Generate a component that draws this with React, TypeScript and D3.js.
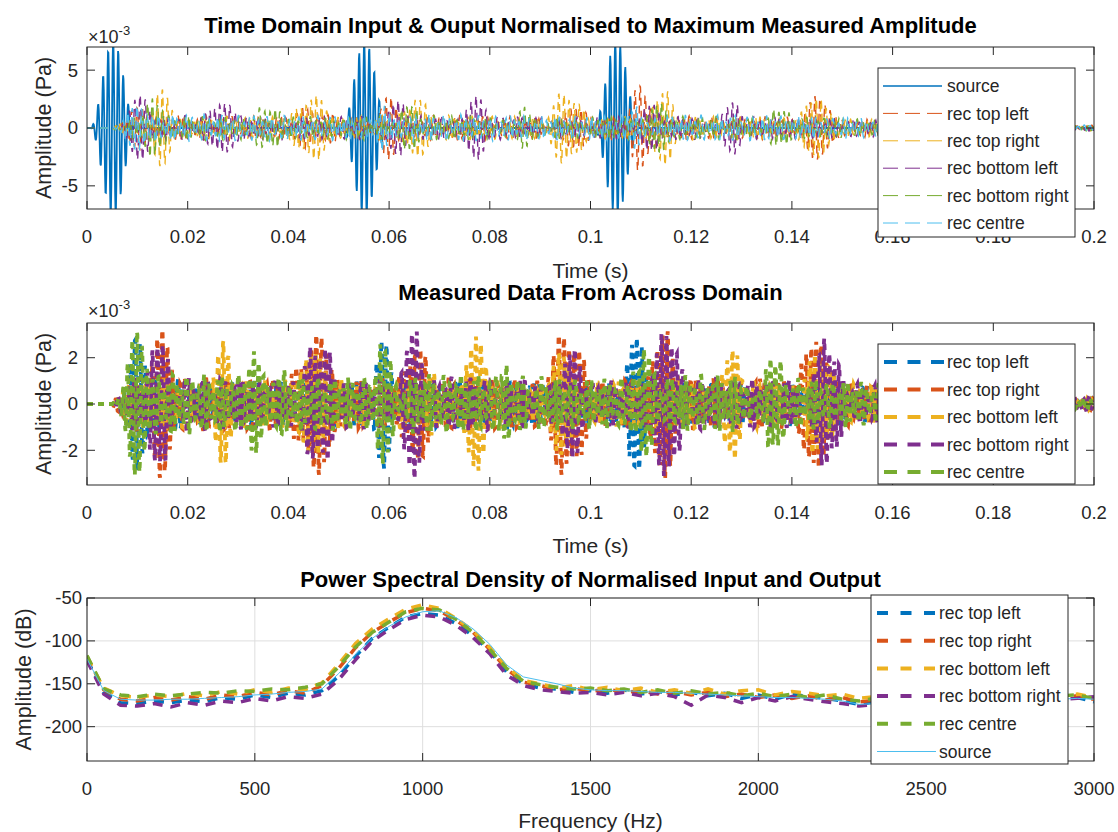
import React, { useEffect, useRef } from 'react'
import * as d3 from 'd3'

const W = 1118
const H = 832
const FONT = '"Liberation Sans", Arial, Helvetica, sans-serif'
const INK = '#262626'

// MATLAB default colour order
const colors = ['#0072BD', '#D95319', '#EDB120', '#7E2F8E', '#77AC30', '#4DBEEE']

// ---------- time domain (values in 10^-3 Pa) ----------
const carrierHz = 1000
const sampleRate = 12000

const timeTicks = [0, 0.02, 0.04, 0.06, 0.08, 0.1, 0.12, 0.14, 0.16, 0.18, 0.2]
const timeTickLabels = ['0', '0.02', '0.04', '0.06', '0.08', '0.1', '0.12', '0.14', '0.16', '0.18', '0.2']

// bursts: [centre time (s), peak amplitude, half width (ms)]
const p1Source = [[0.0052, 7.6, 4.6], [0.0552, 7.6, 4.6], [0.1052, 7.6, 4.6]]
const p1TopLeft = [[0.011, 2.2, 3.5], [0.045, 1.7, 6], [0.06, 3.1, 4], [0.095, 1.8, 6], [0.11, 2.9, 4], [0.145, 1.9, 6]]
const p1TopRight = [[0.015, 2.5, 4.5], [0.045, 2.1, 6], [0.065, 2.7, 5], [0.095, 2.3, 6], [0.115, 2.7, 5], [0.146, 2.4, 6]]
const p1BottomLeft = [[0.0105, 2.4, 3.5], [0.027, 2.0, 4.5], [0.061, 2.4, 4], [0.077, 2.0, 4.5], [0.111, 2.3, 4], [0.127, 2.0, 4.5]]
const p1BottomRight = [[0.013, 1.5, 5], [0.036, 1.1, 6], [0.063, 1.5, 5], [0.086, 1.1, 6], [0.113, 1.5, 5], [0.136, 1.1, 6]]
const p1Centre = [[0.01, 1.4, 4], [0.06, 1.3, 4], [0.11, 1.3, 4]]

const p2TopLeft = [[0.0095, 2.9, 3.5], [0.0588, 3.6, 3.5], [0.1088, 3.6, 3.5]]
const p2TopRight = [[0.015, 2.3, 4.5], [0.046, 2.2, 7], [0.065, 2.6, 5], [0.095, 2.2, 7], [0.115, 2.6, 5], [0.146, 2.5, 6.5]]
const p2BottomLeft = [[0.027, 2.0, 4.5], [0.045, 1.7, 6.5], [0.069, 1.5, 4], [0.077, 2.1, 4.5], [0.095, 1.4, 6.5], [0.127, 2.1, 4.5], [0.145, 1.3, 6.5]]
const p2BottomRight = [[0.015, 2.0, 4.5], [0.046, 1.7, 7], [0.065, 2.4, 5], [0.095, 1.8, 7], [0.115, 2.4, 5], [0.146, 1.9, 6.5]]
const p2Centre = [[0.01, 2.7, 3.5], [0.035, 1.4, 6], [0.06, 2.5, 4], [0.085, 1.4, 6], [0.11, 2.5, 4], [0.135, 1.4, 6]]

// reverberant background level
const floorTimes = [0, 0.005, 0.009, 0.02, 0.035, 0.05, 0.07, 0.085, 0.1, 0.12, 0.135, 0.15, 0.17, 0.2]
const p1FloorLevels = [0, 0, 1.1, 1.1, 1.0, 1.0, 1.1, 1.0, 0.95, 1.05, 1.0, 0.85, 0.55, 0.25]
const p2FloorLevels = [0, 0, 1.2, 1.2, 1.1, 1.05, 1.2, 1.1, 1.0, 1.15, 1.1, 0.95, 0.6, 0.25]
const p1FloorGain = [0, 1, 1, 1, 1, 1.1]
const p2FloorGain = [0.9, 1, 0.95, 1, 1.1]

const p1Names = ['source', 'rec top left', 'rec top right', 'rec bottom left', 'rec bottom right', 'rec centre']
const p2Names = ['rec top left', 'rec top right', 'rec bottom left', 'rec bottom right', 'rec centre']

// ---------- power spectral density (dB) ----------
const psdFreqs = d3.range(0, 3001, 50)
const psdTopLeft = [
  -122, -160, -172, -173, -170, -172, -169, -171, -166, -168,
  -163, -166, -161, -163, -158, -141, -118, -97, -84, -72,
  -68, -70, -80, -94, -112, -136, -150, -155, -156, -160,
  -158, -161, -157, -162, -159, -163, -160, -164, -161, -167,
  -163, -168, -162, -165, -167, -170, -174, -171, -173, -168,
  -171, -167, -172, -169, -173, -168, -171, -167, -170, -166,
  -171,
]
const psdTopRight = [
  -118, -157, -168, -170, -166, -169, -165, -168, -163, -165,
  -160, -163, -158, -161, -152, -132, -108, -90, -78, -67,
  -62, -65, -76, -90, -110, -133, -148, -152, -157, -155,
  -159, -156, -160, -158, -162, -159, -163, -160, -165, -162,
  -166, -163, -167, -164, -169, -166, -171, -169, -174, -170,
  -168, -172, -169, -173, -170, -168, -172, -169, -166, -164,
  -168,
]
const psdBottomLeft = [
  -119, -155, -164, -166, -163, -165, -161, -164, -159, -162,
  -157, -160, -155, -157, -149, -127, -103, -86, -74, -63,
  -58, -62, -74, -88, -108, -130, -146, -150, -155, -152,
  -157, -154, -158, -155, -160, -157, -161, -156, -162, -158,
  -157, -163, -159, -161, -164, -162, -167, -165, -169, -166,
  -164, -168, -165, -167, -164, -166, -169, -165, -163, -162,
  -166,
]
const psdBottomRight = [
  -123, -162, -175, -176, -173, -177, -172, -175, -170, -172,
  -167, -170, -165, -167, -162, -145, -122, -100, -87, -75,
  -70, -72, -82, -96, -115, -140, -152, -157, -159, -161,
  -160, -163, -160, -164, -161, -165, -175, -163, -166, -172,
  -166, -170, -165, -168, -171, -173, -176, -174, -172, -175,
  -171, -174, -170, -173, -176, -172, -174, -170, -168, -167,
  -165,
]
const psdCentre = [
  -117, -156, -163, -165, -162, -164, -162, -160, -161, -158,
  -159, -156, -157, -154, -150, -130, -107, -90, -78, -66,
  -62, -64, -75, -90, -110, -132, -147, -151, -154, -156,
  -155, -158, -156, -160, -157, -161, -158, -162, -160, -164,
  -161, -165, -162, -166, -163, -168, -170, -167, -171, -168,
  -166, -170, -167, -169, -166, -170, -168, -166, -164, -163,
  -167,
]
const psdSource = [
  -121, -158, -168, -169, -169, -168, -168, -167, -166, -165,
  -163, -162, -160, -159, -156, -138, -116, -97, -83, -72,
  -66, -65, -73, -86, -104, -128, -142, -146, -150, -155,
  -157, -158, -158, -159, -160, -160, -161, -162, -163, -164,
  -165, -166, -166, -167, -168, -170, -174, -173, -172, -171,
  -170, -170, -170, -169, -169, -169, -168, -168, -168, -167,
  -168,
]
const p3Names = ['rec top left', 'rec top right', 'rec bottom left', 'rec bottom right', 'rec centre', 'source']
const freqTicks = [0, 500, 1000, 1500, 2000, 2500, 3000]
const freqTickLabels = ['0', '500', '1000', '1500', '2000', '2500', '3000']

const left = 87
const right = 1094

const timeAxis = d3.range(0, 0.2 + 1e-9, 1 / sampleRate)

function waveform(bursts: number[][], floorLevels: number[], gain: number, k: number) {
  const fl = d3.scaleLinear().domain(floorTimes).range(floorLevels).clamp(true)
  return timeAxis.map((t) => {
    let v = 0
    bursts.forEach(([tc, a, hw], i) => {
      const u = (t - tc) / (hw / 1000)
      if (Math.abs(u) < 1) {
        const w = Math.cos((u * Math.PI) / 2) ** 2
        v += a * w * Math.cos(2 * Math.PI * carrierHz * (t - tc) + 0.9 * i * k)
      }
    })
    const f = fl(t) * gain
    if (f > 0) {
      const fm = 1.7 * Math.sin(2 * Math.PI * (53 + 11 * k) * t + k)
      const am = 0.72 + 0.28 * Math.sin(2 * Math.PI * (140 + 29 * k) * t + 2 * k)
      v += f * am * Math.sin(2 * Math.PI * carrierHz * t + 1.3 * k + fm)
    }
    return [t, v] as [number, number]
  })
}

type Svg = d3.Selection<SVGSVGElement, unknown, null, undefined>

function drawFrame(
  svg: Svg,
  top: number,
  bottom: number,
  x: d3.ScaleLinear<number, number>,
  y: d3.ScaleLinear<number, number>,
  xTicks: number[],
  xLabels: string[],
  yTicks: number[],
  yLabelEnd: number,
) {
  const g = svg.append('g')
  g.append('rect')
    .attr('x', left)
    .attr('y', top)
    .attr('width', right - left)
    .attr('height', bottom - top)
    .attr('fill', 'none')
    .attr('stroke', INK)
    .attr('stroke-width', 1)
  const tl = 8
  xTicks.forEach((t) => {
    g.append('line').attr('x1', x(t)).attr('x2', x(t)).attr('y1', bottom).attr('y2', bottom - tl).attr('stroke', INK)
    g.append('line').attr('x1', x(t)).attr('x2', x(t)).attr('y1', top).attr('y2', top + tl).attr('stroke', INK)
  })
  yTicks.forEach((t) => {
    g.append('line').attr('x1', left).attr('x2', left + tl).attr('y1', y(t)).attr('y2', y(t)).attr('stroke', INK)
    g.append('line').attr('x1', right).attr('x2', right - tl).attr('y1', y(t)).attr('y2', y(t)).attr('stroke', INK)
  })
  g.selectAll('.xl')
    .data(xTicks)
    .enter()
    .append('text')
    .attr('x', (d) => x(d))
    .attr('y', bottom + 34)
    .attr('text-anchor', 'middle')
    .attr('font-size', 18.5)
    .attr('fill', INK)
    .text((d, i) => xLabels[i])
  g.selectAll('.yl')
    .data(yTicks)
    .enter()
    .append('text')
    .attr('x', yLabelEnd)
    .attr('y', (d) => y(d))
    .attr('dy', '0.35em')
    .attr('text-anchor', 'end')
    .attr('font-size', 18.5)
    .attr('fill', INK)
    .text((d) => String(d))
}

function clip(svg: Svg, id: string, top: number, bottom: number) {
  svg
    .append('defs')
    .append('clipPath')
    .attr('id', id)
    .append('rect')
    .attr('x', left)
    .attr('y', top)
    .attr('width', right - left)
    .attr('height', bottom - top)
  return svg.append('g').attr('clip-path', `url(#${id})`)
}

function labels(svg: Svg, title: string, titleY: number, xlabel: string, xlabelY: number, ylabel: string, ylabelX: number, ylabelY: number) {
  const cx = (left + right) / 2
  svg.append('text').attr('x', cx).attr('y', titleY).attr('text-anchor', 'middle')
    .attr('font-size', 22).attr('font-weight', 'bold').attr('fill', '#000').text(title)
  svg.append('text').attr('x', cx).attr('y', xlabelY).attr('text-anchor', 'middle')
    .attr('font-size', 21).attr('fill', INK).text(xlabel)
  svg.append('text')
    .attr('transform', `translate(${ylabelX},${ylabelY}) rotate(-90)`)
    .attr('text-anchor', 'middle')
    .attr('dy', '0.35em')
    .attr('font-size', 21.5)
    .attr('fill', INK)
    .text(ylabel)
}

function exponent(svg: Svg, baseline: number) {
  const t = svg.append('text').attr('x', 88).attr('y', baseline).attr('font-size', 18).attr('fill', INK)
  t.append('tspan').text('\u00d710')
  t.append('tspan').attr('font-size', 13).attr('dy', -8).text('-3')
}

type Entry = { name: string; color: string; dash: string | null; width: number }

function legend(svg: Svg, bx: number, by: number, bw: number, bh: number, lx1: number, lx2: number, tx: number, y0: number, step: number, entries: Entry[]) {
  const g = svg.append('g')
  g.append('rect').attr('x', bx).attr('y', by).attr('width', bw).attr('height', bh)
    .attr('fill', '#fff').attr('stroke', INK).attr('stroke-width', 1)
  entries.forEach((e, i) => {
    const cy = y0 + i * step
    g.append('line').attr('x1', lx1).attr('x2', lx2).attr('y1', cy).attr('y2', cy)
      .attr('stroke', e.color).attr('stroke-width', e.width)
      .attr('stroke-dasharray', e.dash)
    g.append('text').attr('x', tx).attr('y', cy).attr('dy', '0.35em')
      .attr('font-size', 17.5).attr('fill', INK).text(e.name)
  })
}

function draw(el: SVGSVGElement) {
  const svg = d3.select(el) as Svg
  svg.selectAll('*').remove()
  svg.attr('font-family', FONT)

  // ---------- panel 1 ----------
  {
    const top = 47
    const bottom = 209
    const x = d3.scaleLinear().domain([0, 0.2]).range([left, right])
    const y = d3.scaleLinear().domain([-7, 7]).range([bottom, top])
    const line = d3.line<[number, number]>().x((d) => x(d[0])).y((d) => y(d[1]))
    const series = [p1Source, p1TopLeft, p1TopRight, p1BottomLeft, p1BottomRight, p1Centre]
    const g = clip(svg, 'c1', top, bottom)
    series.forEach((b, i) => {
      const data = waveform(b, p1FloorLevels, p1FloorGain[i], i + 1)
      g.append('path')
        .attr('d', line(data))
        .attr('fill', 'none')
        .attr('stroke', colors[i])
        .attr('stroke-width', i === 0 ? 1.8 : 1.4)
        .attr('stroke-dasharray', i === 0 ? null : '8 5')
    })
    drawFrame(svg, top, bottom, x, y, timeTicks, timeTickLabels, [-5, 0, 5], 78)
    exponent(svg, 43)
    labels(svg, 'Time Domain Input & Ouput Normalised to Maximum Measured Amplitude', 33, 'Time (s)', 278, 'Amplitude (Pa)', 43, (top + bottom) / 2)
    legend(svg, 878, 68, 197, 169, 883, 942, 947, 86, 27.4,
      p1Names.map((n, i) => ({ name: n, color: colors[i], dash: i === 0 ? null : '15 7', width: i === 0 ? 1.5 : 1 })))
  }

  // ---------- panel 2 ----------
  {
    const top = 323
    const bottom = 485
    const x = d3.scaleLinear().domain([0, 0.2]).range([left, right])
    const y = d3.scaleLinear().domain([-3.5, 3.5]).range([bottom, top])
    const line = d3.line<[number, number]>().x((d) => x(d[0])).y((d) => y(d[1]))
    const series = [p2TopLeft, p2TopRight, p2BottomLeft, p2BottomRight, p2Centre]
    const g = clip(svg, 'c2', top, bottom)
    series.forEach((b, i) => {
      const data = waveform(b, p2FloorLevels, p2FloorGain[i], i + 2)
      g.append('path')
        .attr('d', line(data))
        .attr('fill', 'none')
        .attr('stroke', colors[i])
        .attr('stroke-width', 3.8)
        .attr('stroke-dasharray', '6 5')
    })
    drawFrame(svg, top, bottom, x, y, timeTicks, timeTickLabels, [-2, 0, 2], 78)
    exponent(svg, 317)
    labels(svg, 'Measured Data From Across Domain', 300, 'Time (s)', 553, 'Amplitude (Pa)', 43, (top + bottom) / 2)
    legend(svg, 878, 344, 197, 140, 884, 944, 947, 362, 27.5,
      p2Names.map((n, i) => ({ name: n, color: colors[i], dash: '13 10.5', width: 4 })))
  }

  // ---------- panel 3 ----------
  {
    const top = 598
    const bottom = 761
    const x = d3.scaleLinear().domain([0, 3000]).range([left, right])
    const y = d3.scaleLinear().domain([-240, -50]).range([bottom, top])
    const yTicks = [-200, -150, -100, -50]
    const grid = svg.append('g')
    freqTicks.forEach((f) => {
      grid.append('line').attr('x1', x(f)).attr('x2', x(f)).attr('y1', top).attr('y2', bottom)
        .attr('stroke', '#dedede').attr('stroke-width', 1)
    })
    yTicks.forEach((v) => {
      grid.append('line').attr('x1', left).attr('x2', right).attr('y1', y(v)).attr('y2', y(v))
        .attr('stroke', '#dedede').attr('stroke-width', 1)
    })
    const line = d3.line<[number, number]>().x((d) => x(d[0])).y((d) => y(d[1]))
    const series = [psdTopLeft, psdTopRight, psdBottomLeft, psdBottomRight, psdCentre, psdSource]
    const g = clip(svg, 'c3', top, bottom)
    series.forEach((vals, i) => {
      const data = psdFreqs.map((f, j) => [f, vals[j]] as [number, number])
      const isSource = i === 5
      g.append('path')
        .attr('d', line(data))
        .attr('fill', 'none')
        .attr('stroke', colors[i])
        .attr('stroke-width', isSource ? 1 : 3.5)
        .attr('stroke-dasharray', isSource ? null : '10 8')
    })
    drawFrame(svg, top, bottom, x, y, freqTicks, freqTickLabels, yTicks, 82)
    labels(svg, 'Power Spectral Density of Normalised Input and Output', 587, 'Frequency (Hz)', 828, 'Amplitude (dB)', 23, (top + bottom) / 2)
    legend(svg, 871, 595, 197, 169, 877, 936, 939, 613, 27.7,
      p3Names.map((n, i) => ({ name: n, color: colors[i], dash: i === 5 ? null : '11 12.5', width: i === 5 ? 1 : 4 })))
  }
}

export default function App() {
  const ref = useRef<SVGSVGElement>(null)
  useEffect(() => {
    document.body.style.margin = '0'
    if (ref.current) draw(ref.current)
  }, [])
  return <svg ref={ref} width={W} height={H} style={{ display: 'block', background: '#fff' }} />
}
